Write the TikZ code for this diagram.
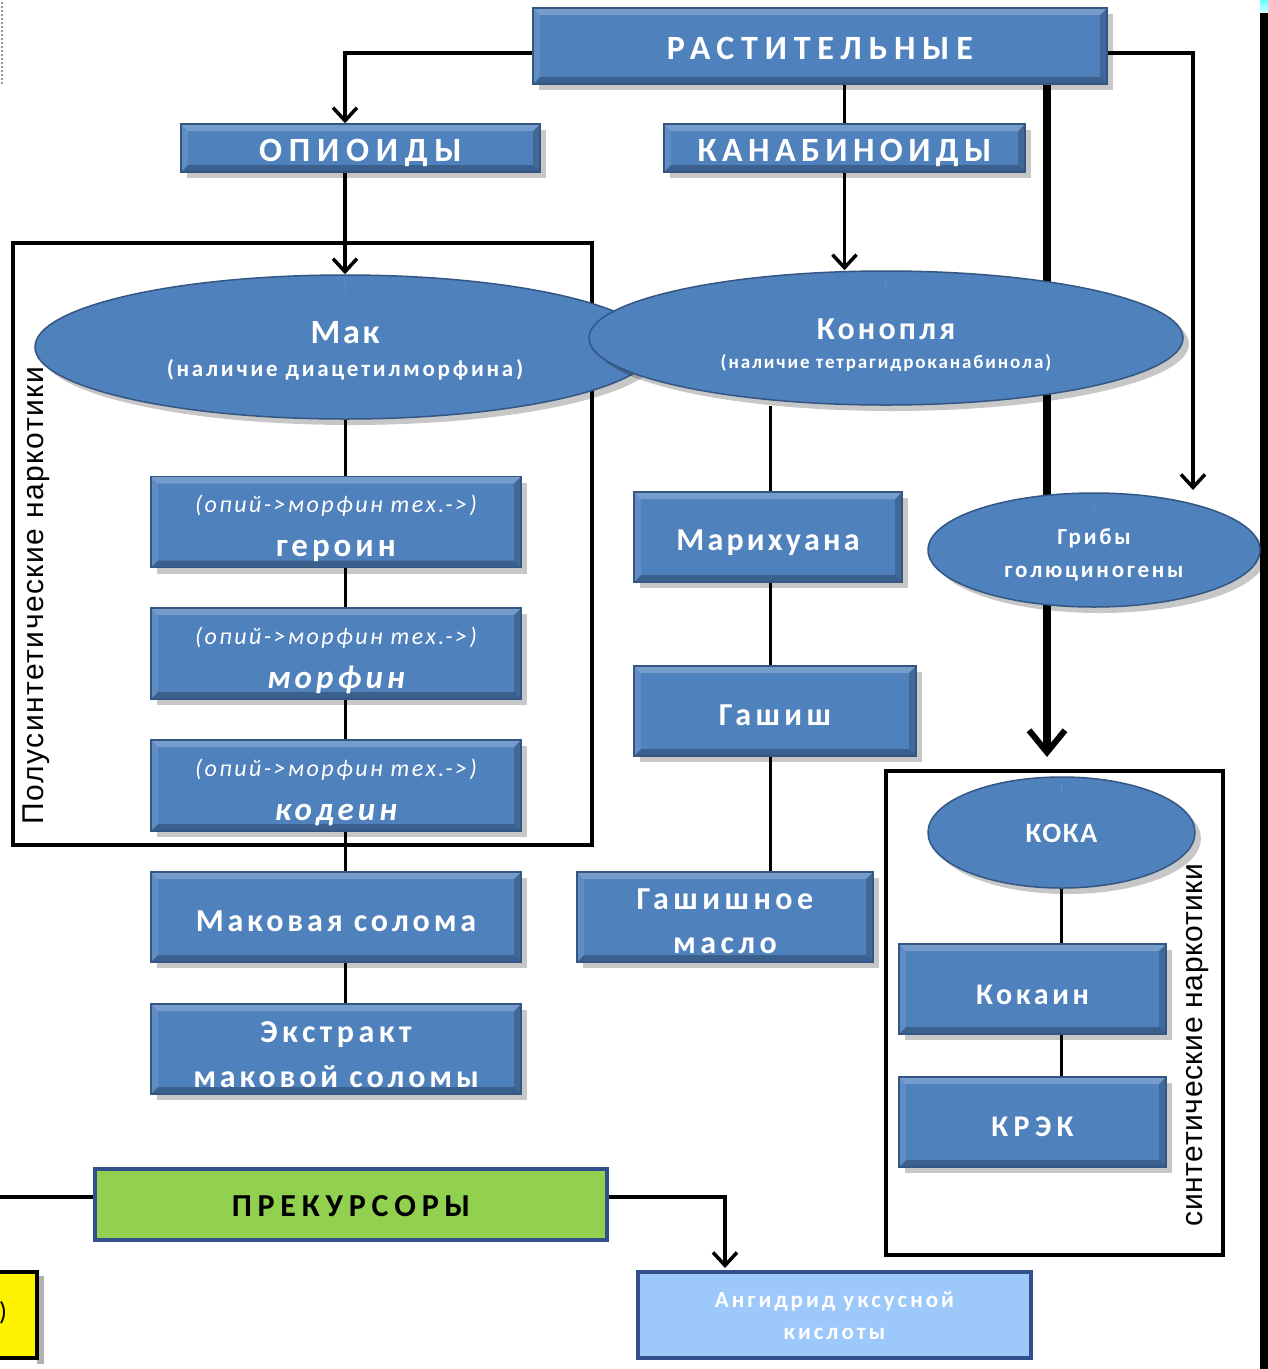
\documentclass[tikz,border=0pt]{standalone}
\usepackage{fontspec}
\setmainfont{Carlito}
\newfontfamily\arialf[LetterSpace=5]{Liberation Sans}
\newfontfamily\arialg[LetterSpace=2]{Liberation Sans}
\usetikzlibrary{shapes.geometric,arrows.meta,backgrounds,shadows}
\definecolor{boxblue}{RGB}{79,129,189}
\definecolor{boxedge}{RGB}{52,86,130}
\definecolor{prekgreen}{RGB}{146,208,80}
\definecolor{darkedge}{RGB}{50,80,140}
\definecolor{lightblue}{RGB}{156,200,250}
\newcommand\fs[2]{\fontsize{#1}{#1}\selectfont\addfontfeature{LetterSpace=#2}}
% struts: height above baseline / depth below baseline
\newcommand\tops[1]{\rule{0pt}{#1}}
\newcommand\bots[1]{\rule[-#1]{0pt}{#1}}
\newcommand\opline{\itshape\fs{24}{10}(опий->морфин тех.->)\bots{8pt}}
\tikzset{
  bevel/.style={path picture={
    \fill[white,opacity=0.22] (path picture bounding box.north west) -- (path picture bounding box.north east) -- ([xshift=-7pt,yshift=-7pt]path picture bounding box.north east) -- ([xshift=7pt,yshift=-7pt]path picture bounding box.north west) -- cycle;
    \fill[black,opacity=0.25] (path picture bounding box.south west) -- (path picture bounding box.south east) -- ([xshift=-7pt,yshift=7pt]path picture bounding box.south east) -- ([xshift=7pt,yshift=7pt]path picture bounding box.south west) -- cycle;
    \fill[black,opacity=0.18] (path picture bounding box.north east) -- (path picture bounding box.south east) -- ([xshift=-7pt,yshift=7pt]path picture bounding box.south east) -- ([xshift=-7pt,yshift=-7pt]path picture bounding box.north east) -- cycle;
    \fill[white,opacity=0.10] (path picture bounding box.north west) -- (path picture bounding box.south west) -- ([xshift=7pt,yshift=7pt]path picture bounding box.south west) -- ([xshift=7pt,yshift=-7pt]path picture bounding box.north west) -- cycle;
  }},
  bbox/.style={rectangle, draw=boxedge, line width=1.5pt, fill=boxblue, text=white, inner sep=0pt, align=center, bevel,
    drop shadow={shadow xshift=6pt, shadow yshift=-6pt, fill=black, opacity=0.22}},
  ell/.style={ellipse, draw=boxedge, line width=1.5pt, fill=boxblue, text=white, inner sep=0pt, align=center,
    drop shadow={shadow xshift=6pt, shadow yshift=-6pt, fill=black, opacity=0.22},
    path picture={\fill[white,opacity=0.15] ([yshift=-12pt]path picture bounding box.north) ellipse [x radius=0.42\pgfkeysvalueof{/pgf/minimum width}, y radius=6pt];}},
  conn/.style={draw=black, line width=3.5pt},
  tline/.style={draw=black, line width=3pt},
  arr/.style={conn, -{Straight Barb[length=13pt,width=24pt,line width=3.5pt]}},
  thickarr/.style={draw=black, line width=8pt, -{Straight Barb[length=22pt,width=36pt,line width=6pt]}},
  frame/.style={draw=black, line width=3.5pt},
  vlabel/.style={rotate=90, anchor=base, inner sep=0pt},
  td/.style 2 args={text height=#1, text depth=#2},
}
\begin{document}
\begin{tikzpicture}[x=1pt,y=-1pt]
\useasboundingbox (0,0) rectangle (1268,1369);

% nodes
\node[bbox, minimum width=574pt, minimum height=76pt, td={36pt}{10pt}] (rast) at (820,46) {\bfseries\fs{34}{20}РАСТИТЕЛЬНЫЕ};
\node[bbox, minimum width=359pt, minimum height=48pt, td={36pt}{10pt}] (opi) at (360.5,148) {\bfseries\fs{34}{20}ОПИОИДЫ};
\node[bbox, minimum width=361pt, minimum height=48pt, td={36pt}{10pt}] (kan) at (844.5,148) {\bfseries\fs{34}{16}КАНАБИНОИДЫ};

\node[ell, minimum width=620pt, minimum height=144pt] (mak) at (345,347) {{\tops{43pt}\bfseries\fs{34}{8}Мак}\\[15pt]{\bfseries\fs{23}{12}(наличие диацетилморфина)\bots{17pt}}};
\node[ell, minimum width=594pt, minimum height=134pt] (kon) at (886,338) {{\tops{44pt}\bfseries\fs{32}{10}Конопля}\\[13pt]{\bfseries\fs{19}{10}(наличие тетрагидроканабинола)\bots{12pt}}};

\node[bbox, minimum width=370pt, minimum height=90pt] (ger) at (336,522) {{\tops{36pt}\opline}\\[9pt]{\tops{26pt}\bfseries\fs{33}{12}героин\bots{11pt}}};
\node[bbox, minimum width=370pt, minimum height=89pt] (morf) at (336,653.5) {{\tops{36pt}\opline}\\[9pt]{\tops{26pt}\bfseries\itshape\fs{33}{12}морфин\bots{11pt}}};
\node[bbox, minimum width=370pt, minimum height=89pt] (kod) at (336,785.5) {{\tops{36pt}\opline}\\[9pt]{\tops{26pt}\bfseries\itshape\fs{33}{12}кодеин\bots{11pt}}};
\node[bbox, minimum width=370pt, minimum height=90pt, td={34pt}{6pt}] (sol) at (336,917) {\bfseries\fs{32}{12}Маковая солома};
\node[bbox, minimum width=370pt, minimum height=90pt] (ext) at (336,1049) {{\tops{38pt}\bfseries\fs{32}{14}Экстракт}\\[17pt]{\bfseries\fs{32}{12}маковой соломы\bots{6pt}}};

\node[bbox, minimum width=268pt, minimum height=90pt, td={33pt}{7pt}] (mari) at (768,537) {\bfseries\fs{32}{10}Марихуана};
\node[bbox, minimum width=282pt, minimum height=90pt, td={34pt}{6pt}] (gash) at (775,711) {\bfseries\fs{32}{14}Гашиш};
\node[bbox, minimum width=296pt, minimum height=90pt] (masl) at (725,917) {{\tops{37pt}\bfseries\fs{32}{14}Гашишное}\\[26pt]{\bfseries\fs{32}{14}масло\bots{8pt}}};

\node[ell, minimum width=332pt, minimum height=114pt] (grib) at (1094,550) {{\tops{34pt}\bfseries\fs{23}{12}Грибы}\\[17pt]{\bfseries\fs{23}{12}голюциногены\bots{12pt}}};
\node[ell, minimum width=267pt, minimum height=111pt, td={29pt}{10pt}] (koka) at (1061.5,832.5) {\bfseries\fs{28}{6}КОКА};
\node[bbox, minimum width=267pt, minimum height=90pt, td={36pt}{6pt}] (kok) at (1032.5,989) {\bfseries\fs{30}{12}Кокаин};
\node[bbox, minimum width=267pt, minimum height=90pt, td={34pt}{6pt}] (krek) at (1032.5,1122) {\bfseries\fs{30}{18}КРЭК};

\node[rectangle, draw=darkedge, line width=4pt, fill=prekgreen, minimum width=512pt, minimum height=71pt, inner sep=0pt, td={31pt}{8pt}] (prek) at (351,1204.5) {\bfseries\fs{32}{18}ПРЕКУРСОРЫ};
\node[rectangle, draw=darkedge, line width=4pt, fill=lightblue, text=white, align=center, minimum width=393pt, minimum height=86pt, inner sep=0pt] (angid) at (834.5,1315) {{\tops{34pt}\bfseries\fs{23}{13}Ангидрид уксусной}\\[15pt]{\bfseries\fs{23}{13}кислоты\bots{17pt}}};

\fill[black!30] (37,1276) rectangle (44,1364);
\node[rectangle, draw=black, line width=4pt, fill=yellow, minimum width=47pt, minimum height=86pt, inner sep=0pt] (yel) at (13.5,1315) {};
\node[anchor=west, inner sep=0pt, font=\fontsize{26}{28}\selectfont] (yeltxt) at (-1,1313) {)};

\node[vlabel, font=\arialf\fontsize{30}{32}\selectfont] (lab1) at (43,595.5) {Полусинтетические наркотики};
\node[vlabel, font=\arialg\fontsize{30}{32}\selectfont] (lab2) at (1202,1045) {синтетические наркотики};

% coordinates
\coordinate (y53) at (0,53);
\coordinate (gribtop) at (1193,490);
\coordinate (thickend) at (1047,757);
\coordinate (leftend) at (0,1197);
\coordinate (y1197) at (0,1197);
\coordinate (angtop) at (725,1268);
\coordinate (x345) at (345,0);
\coordinate (x770) at (770,0);

\begin{scope}[on background layer]
  \fill[white] (0,0) rectangle (1268,1369);
  \fill[black] (1260,12) rectangle (1268,1369);
  \shade[top color=cyan!60, bottom color=cyan!20] (1260,0) rectangle (1268,12);
  \draw[black!40, line width=1.5pt, dash pattern=on 2pt off 2pt] (2,2) -- (2,85);
  \draw[frame] (13,243) rectangle (592,845);
  \draw[frame] (886,771) rectangle (1223,1255);
  \draw[arr] (rast.west |- y53) -| (x345 |- opi.north);
  \draw[arr] (rast.east |- y53) -| (gribtop);
  \draw[tline] (rast.south -| kan.north) -- (kan.north);
  \draw[arr] (kan.south) -- (kan.south |- kon.north);
  \draw[arr] (x345 |- opi.south) -- (mak.north);
  \draw[thickarr] (rast.south -| thickend) -- (thickend);
  \draw[tline] (mak.south) -- (mak.south |- ext.north);
  \draw[tline] (kon.south -| x770) -- (masl.north -| x770);
  \draw[tline] (koka.south) -- (koka.south |- krek.north);
  \draw[conn] (leftend) -- (prek.west |- y1197);
  \draw[arr] (prek.east |- y1197) -| (angtop);
\end{scope}
\end{tikzpicture}
\end{document}
